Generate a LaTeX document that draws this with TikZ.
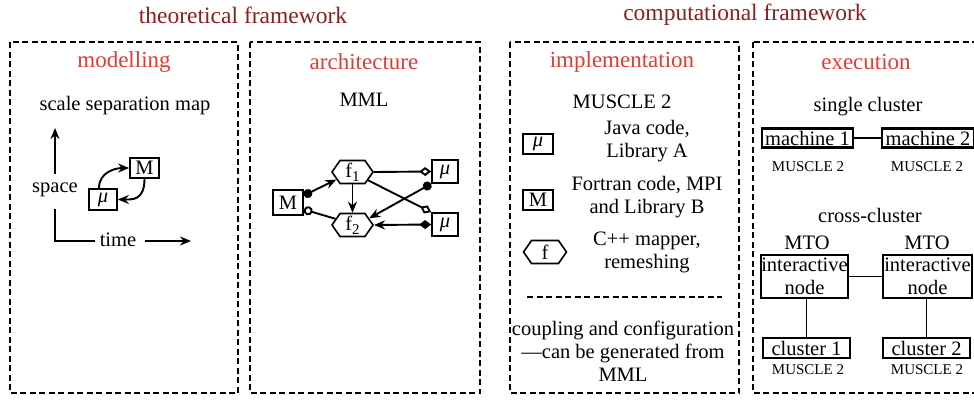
\documentclass[tikz,border=0pt]{standalone}
\usepackage{fontspec}
\setmainfont{LiberationSerif}[Extension=.ttf, UprightFont=*-Regular, ItalicFont=*-Italic, BoldFont=*-Bold, BoldItalicFont=*-BoldItalic]
\usetikzlibrary{arrows.meta,shapes.symbols,calc}
\definecolor{hdrred}{RGB}{140,30,30}
\definecolor{titred}{RGB}{228,58,52}
\newcommand\mysub[1]{\raisebox{-0.45ex}{\fontsize{15}{15}\selectfont #1}}
\newcommand\mymu{{\itshape μ}}
\begin{document}
\begin{tikzpicture}[x=1pt,y=-1pt,
  panel/.style={draw, line width=1.7pt, dash pattern=on 6pt off 3.5pt},
  hdr/.style={text=hdrred, font=\fontsize{23.5}{27}\selectfont, inner sep=0pt},
  ttl/.style={text=titred, font=\fontsize{23}{27}\selectfont, inner sep=0pt},
  txt/.style={font=\fontsize{20.5}{23}\selectfont, align=center, inner sep=1pt},
  small/.style={font=\fontsize{15}{18}\selectfont, inner sep=0pt},
  bx/.style={draw, line width=1.7pt, inner sep=0pt, font=\fontsize{20.5}{23}\selectfont, align=center},
  tbx/.style={bx, line width=2.2pt},
  hexa/.style={shape=signal, signal to=west and east, signal pointer angle=110, draw, line width=1.6pt, inner sep=0pt, font=\fontsize{20.5}{23}\selectfont},
  ln/.style={line width=1.9pt},
  arr/.style={ln, -{Stealth[length=11pt,width=9pt]}},
]
\useasboundingbox (0,0) rectangle (974,399);

% headers
\node[hdr] (h1) at (243,15) {theoretical framework};
\node[hdr] (h2) at (745,15) {computational framework};

% panels
\draw[panel] (10,42) rectangle (238,393);
\draw[panel] (250,42) rectangle (480,393);
\draw[panel] (510,42) rectangle (739,393);
\draw[panel] (753,42) rectangle (980,393);

\node[ttl] (t1) at (124,62) {modelling};
\node[ttl] (t2) at (364,62) {architecture};
\node[ttl] (t3) at (622,62) {implementation};
\node[ttl] (t4) at (866,62) {execution};

% ---------- modelling
\node[txt] (ssm) at (125,106) {scale separation map};
\node[txt] (space) at (55,190) {space};
\coordinate (yb) at (55,174);
\coordinate (yt) at (55,128);
\draw[arr, line width=2.3pt] (yb) -- (yt);
\coordinate (o1) at (55,209);
\coordinate (o2) at (55,241);
\node[txt] (time) at (118,240) {time};
\draw[ln, line width=2.3pt] (o1) -- (o2) -- ([xshift=-4pt]time.west |- o2);
\coordinate (xe) at (191,241);
\draw[arr, line width=2.3pt] ([xshift=8pt]time.east |- o2) -- (xe);
\node[bx, minimum width=28pt, minimum height=21pt] (mu0) at (103,199.5) {\mymu};
\node[bx, minimum width=29pt, minimum height=20pt] (M0) at (144.5,168) {M};
\draw[arr] ([xshift=-4pt]mu0.north) .. controls +(0,-16) and +(-14,0) .. (M0.west);
\draw[arr] (M0.south) .. controls +(0,22) and +(14,0) .. (mu0.east);

% ---------- architecture
\node[txt] (mml) at (364,100) {MML};
\node[hexa, minimum width=41pt, minimum height=23pt] (f1) at (352.5,172) {f\mysub{1}};
\node[hexa, minimum width=41pt, minimum height=23pt] (f2) at (352.5,225) {f\mysub{2}};
\node[bx, minimum width=30pt, minimum height=25pt] (M1) at (288,202.5) {M};
\node[bx, minimum width=26pt, minimum height=23pt] (m1) at (445,171.5) {\mymu};
\node[bx, minimum width=26pt, minimum height=23pt] (m2) at (445,224.5) {\mymu};

\draw[ln, {Circle[length=9pt]}-{Stealth[length=11pt,width=9pt]}] ([yshift=7pt]M1.east) -- (f1.205);
\draw[ln, {Circle[open,length=9pt]}-] ([yshift=-7pt]M1.east) -- (f2.160);
\draw[arr] (f1.south) -- (f2.north);
\draw[ln, -{Diamond[open,length=12pt,width=9pt]}] (f1.east) -- (m1.west);
\draw[ln, -{Diamond[open,length=12pt,width=9pt]}] (f1.-28) -- (m2.north west);
\draw[ln, {Circle[length=9pt]}-{Stealth[length=11pt,width=9pt]}] (m1.south west) -- (f2.22);
\draw[ln, {Diamond[length=12pt,width=9pt]}-{Stealth[length=11pt,width=9pt]}] (m2.west) -- (f2.east);

% ---------- implementation
\node[txt] (mus) at (622,102) {MUSCLE 2};
\node[bx, minimum width=30pt, minimum height=20pt] (lmu) at (538,144) {\mymu};
\node[txt] (java) at (647,141) {Java code,\\Library A};
\node[bx, minimum width=30pt, minimum height=20pt] (lM) at (538,200) {M};
\node[txt] (fort) at (647,197) {Fortran code, MPI\\and Library B};
\node[hexa, minimum width=43pt, minimum height=23pt] (lf) at (545,252) {f};
\node[txt] (cpp) at (647,252) {C++ mapper,\\remeshing};
\coordinate (d1) at (527,297);
\coordinate (d2) at (722,297);
\draw[panel] (d1) -- (d2);
\node[txt] (coup) at (623,351) {coupling and configuration\\—can be generated from\\MML};

% ---------- execution
\node[txt] (sc) at (868,107) {single cluster};
\node[tbx, minimum width=91pt, minimum height=19pt] (ma1) at (807.5,138) {machine 1};
\node[tbx, minimum width=92pt, minimum height=19pt] (ma2) at (928,138) {machine 2};
\draw[ln] (ma1) -- (ma2);
\node[small] (s1) at (808,167) {MUSCLE 2};
\node[small] (s2) at (927,167) {MUSCLE 2};

\node[txt] (cc) at (870,215) {cross-cluster};
\node[txt] (mto1) at (807,243) {MTO};
\node[txt] (mto2) at (927,243) {MTO};
\node[tbx, minimum width=83pt, minimum height=43pt] (in1) at (804.5,276.5) {interactive\\node};
\node[tbx, minimum width=89pt, minimum height=43pt] (in2) at (927.5,276.5) {interactive\\node};
\draw[ln] (in1) -- (in2);
\node[tbx, minimum width=87pt, minimum height=20pt] (cl1) at (806.5,348) {cluster 1};
\node[tbx, minimum width=87pt, minimum height=20pt] (cl2) at (926.5,348) {cluster 2};
\draw[ln] (in1.south -| cl1) -- (cl1.north);
\draw[ln] (in2.south -| cl2) -- (cl2.north);
\node[small] (s3) at (808,370) {MUSCLE 2};
\node[small] (s4) at (927,370) {MUSCLE 2};
\end{tikzpicture}
\end{document}
